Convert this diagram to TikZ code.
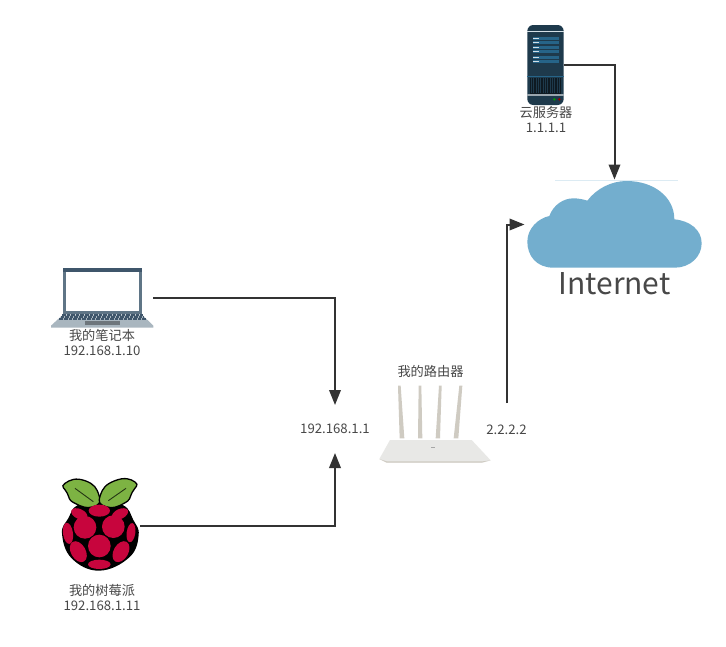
\documentclass[tikz,border=0pt]{standalone}
\usepackage{fontspec}
\setmainfont{Noto Sans CJK SC}
\usetikzlibrary{arrows.meta}
\definecolor{ink}{HTML}{333333}
\definecolor{txt}{HTML}{484848}
\definecolor{cloudc}{HTML}{73AECE}
\definecolor{srvdark}{HTML}{1E3A4C}
\definecolor{srvblue}{HTML}{266488}
\definecolor{lapdark}{HTML}{3F566B}
\definecolor{lapside}{HTML}{5F7586}
\definecolor{lapbase}{HTML}{A9B6BF}
\definecolor{berry}{HTML}{C7053D}
\definecolor{leaf}{HTML}{7DB343}
\definecolor{rtbody}{HTML}{E8E8E6}
\definecolor{rtant}{HTML}{CFCBC2}
\tikzset{
  conn/.style={draw=ink,line width=2pt,-{Triangle[length=15pt,width=11.5pt]}},
  lbl/.style={text=txt,font=\fontsize{13.2}{15}\selectfont,inner sep=0pt},
  holder/.style={inner sep=0pt,outer sep=0pt,draw=none},
  port/.style={text=txt,font=\fontsize{13.2}{15}\selectfont,inner sep=0pt,outer sep=0pt},
}
\begin{document}
\begin{tikzpicture}[x=1pt,y=-1pt]
\useasboundingbox (0,0) rectangle (726,646);
\fill[white] (0,0) rectangle (726,646);

% ---- cloud
\begin{scope}[shift={(490,10)},scale=1/3]
  \draw[cloudc!25,line width=1.2pt] (195,511) -- (565,511);
  \fill[cloudc] (190,773)
    .. controls (140,773) and (112,738) .. (112,695)
    .. controls (112,655) and (145,625) .. (178,618)
    .. controls (190,585) and (220,565) .. (250,565)
    .. controls (265,565) and (280,568) .. (292,572)
    .. controls (320,535) and (365,513) .. (410,513)
    .. controls (490,513) and (553,560) .. (553,628)
    .. controls (600,632) and (635,660) .. (635,700)
    .. controls (635,740) and (600,773) .. (555,773) -- cycle;
\end{scope}

% ---- server
\begin{scope}[shift={(490,10)},scale=1/3]
  \fill[srvdark,rounded corners=6pt] (112,45) rectangle (221,285);
  \fill[white!80!srvblue] (112,63) rectangle (221,67);
  \foreach \yy in {81,93,108,120,139,151}{
    \fill[srvblue] (128,\yy) rectangle (207,\yy+9);
    \fill[white!80!srvblue] (130,\yy+3) rectangle (148,\yy+6);
  }
  \fill[srvblue] (112,198) rectangle (221,201);
  \fill[black!55!srvdark] (120,203) rectangle (214,252);
  \foreach \xx in {124,131,...,210}{\draw[srvdark,line width=0.5pt] (\xx,205) -- (\xx,250);}
  \fill[white!55!srvdark] (112,252) rectangle (221,258);
  \fill[green!60!black] (193,268) circle (4);
  \fill[red!60!black] (208,268) circle (4);
\end{scope}

% ---- laptop
\begin{scope}[shift={(40,255)},scale=1/3]
  \fill[lapside] (70,38) rectangle (305,178);
  \fill[lapdark] (70,38) rectangle (305,50);
  \fill[white] (78,50) rectangle (297,168);
  \fill[lapbase] (70,178) -- (305,178) -- (340,212) -- (340,218) -- (33,218) -- (33,212) -- cycle;
  \foreach \yy/\xa/\xb in {181/66/309,187/62/313,193/58/317}{
    \draw[lapdark,line width=1.7pt,dash pattern=on 3.6pt off 1pt] (\xa,\yy) -- (\xb,\yy);
  }
  \fill[black!35!lapbase] (135,198) rectangle (240,210);
\end{scope}

% ---- raspberry
\begin{scope}[shift={(40,470)},scale=1/3]
  \fill[black] plot[smooth cycle,tension=0.7] coordinates {(178,98) (250,106) (280,150) (296,195) (268,262) (178,302) (95,265) (66,190) (85,145) (112,106)};
  \fill[leaf,draw=black,line width=1.3pt] plot[smooth cycle,tension=1] coordinates {(75,40) (135,32) (177,76) (160,110) (105,100) (82,70)};
  \fill[leaf,draw=black,line width=1.3pt] plot[smooth cycle,tension=1] coordinates {(285,36) (225,32) (181,76) (198,110) (252,100) (276,68)};
  \draw[black!70!leaf,line width=0.9pt] (105,55) -- (160,95);
  \draw[black!70!leaf,line width=0.9pt] (258,55) -- (205,92);
  \fill[berry] (178,122) ellipse (32 and 18);
  \fill[berry,rotate around={-25:(118,132)}] (118,132) ellipse (26 and 15);
  \fill[berry,rotate around={25:(240,132)}] (240,132) ellipse (26 and 15);
  \fill[berry] (135,172) circle (34);
  \fill[berry] (220,170) circle (34);
  \fill[berry,rotate around={8:(84,190)}] (84,190) ellipse (15 and 32);
  \fill[berry,rotate around={-8:(273,188)}] (273,188) ellipse (13 and 29);
  \fill[berry] (178,228) circle (34);
  \fill[berry,rotate around={30:(115,245)}] (115,245) ellipse (22 and 34);
  \fill[berry,rotate around={-30:(243,245)}] (243,245) ellipse (22 and 34);
  \fill[berry] (178,283) ellipse (34 and 14);
\end{scope}

% ---- router
\begin{scope}[shift={(290,355)},scale=1/3]
  \fill[rtant] (324,92) -- (332,92) -- (343,250) -- (329,250) -- cycle;
  \fill[rtant] (386,92) -- (394,92) -- (397,250) -- (384,250) -- cycle;
  \fill[rtant] (447,92) -- (455,92) -- (450,250) -- (437,250) -- cycle;
  \fill[rtant] (508,92) -- (517,92) -- (505,250) -- (491,250) -- cycle;
  \fill[rtbody] (300,255) -- (545,255) -- (602,316) -- (575,323) -- (290,323) -- (268,312) -- cycle;
  \fill[rtant] (268,312) -- (290,319) -- (578,319) -- (602,316) -- (575,323) -- (290,323) -- cycle;
  \fill[black!35] (422,275) rectangle (436,278);
\end{scope}

% ---- node holders
\node[holder,minimum width=36pt,minimum height=80pt] (server) at (545.5,65) {};
\node[holder,minimum width=175pt,minimum height=87pt] (cloud) at (614.5,224.5) {};
\node[holder,minimum width=101pt,minimum height=60pt] (laptop) at (102.5,298) {};
\node[holder,minimum width=78pt,minimum height=92pt] (pi) at (101,526) {};
\node[port,minimum height=48pt] (lanip) at (335,429) {192.168.1.1};
\node[port,minimum height=54pt] (wanip) at (506.5,430) {2.2.2.2};

% ---- labels
\node[lbl] (srvname) at (546,112) {云服务器};
\node[lbl] (srvip) at (546,128) {1.1.1.1};
\node[text=txt,font=\fontsize{30}{34}\selectfont,inner sep=0pt] (inet) at (614.5,284) {Internet};
\node[lbl] (lapname) at (102,335) {我的笔记本};
\node[lbl] (lapip) at (102,351) {192.168.1.10};
\node[lbl] (piname) at (102,590) {我的树莓派};
\node[lbl] (piip) at (102,606) {192.168.1.11};
\node[lbl] (rtname) at (430.5,371) {我的路由器};

% ---- connectors
\draw[conn,shorten >=1.5pt] (server.east) -| (cloud.north);
\draw[conn,shorten >=2.5pt] (wanip.north) |- (cloud.west);
\draw[conn] (laptop.east) -| (lanip.north);
\draw[conn] (pi.east) -| (lanip.south);
\end{tikzpicture}
\end{document}
